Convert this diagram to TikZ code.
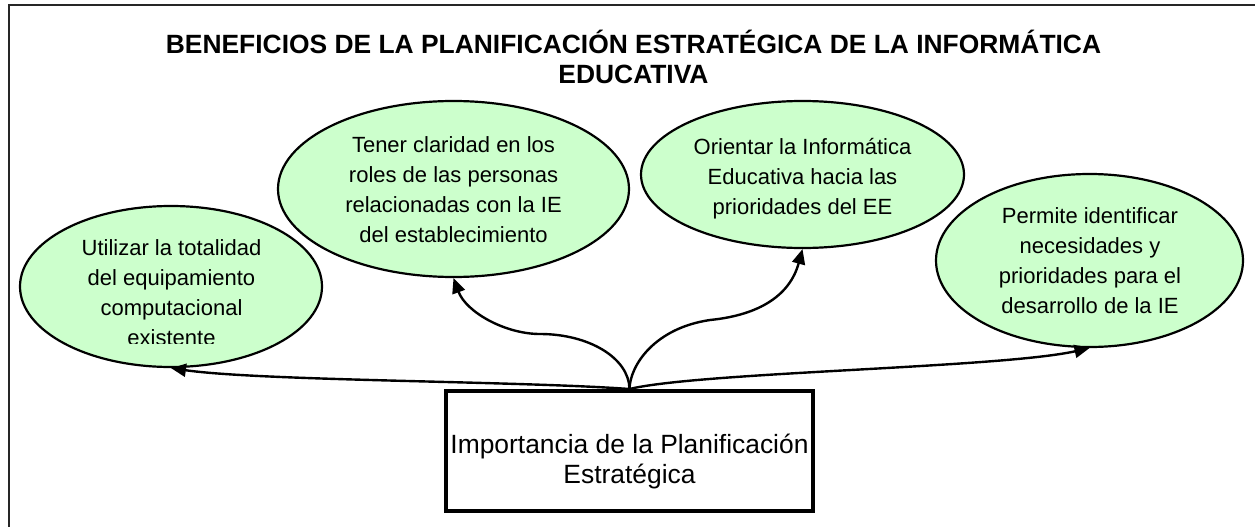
\documentclass[tikz,border=0pt]{standalone}
\usepackage{fontspec}
\setmainfont{Liberation Sans}
\usetikzlibrary{shapes.geometric,arrows.meta}
\definecolor{paleGreen}{RGB}{204,255,204}
\tikzset{
  bubble/.style={ellipse, draw=black, line width=2.2pt, fill=paleGreen, inner sep=0pt},
  bubbletext/.style={anchor=base, align=center, inner sep=0pt, font=\fontsize{22}{30}\selectfont},
  titletext/.style={anchor=base, align=center, inner sep=0pt, font=\bfseries\fontsize{26.4}{30}\selectfont},
  mainbox/.style={draw=black, line width=4pt, fill=white, minimum width=367pt, minimum height=120pt, inner sep=0pt},
  boxtext/.style={anchor=base, align=center, inner sep=0pt, font=\fontsize{26.4}{30}\selectfont},
  link/.style={line width=2.4pt, -{Triangle[length=15pt,width=13pt]}},
  frameline/.style={line width=2pt, draw=black!85}
}
\begin{document}
\begin{tikzpicture}[x=1pt,y=-1pt]
\useasboundingbox (0,0) rectangle (1255,527);
% frame (right and bottom sides fall outside the picture)
\coordinate (fbl) at (9,530);
\coordinate (ftl) at (9,5);
\coordinate (ftr) at (1258,5);
\draw[frameline] (fbl) -- (ftl) -- (ftr);

% title (base anchor = baseline of the last line)
\node[titletext] (title) at (633.5,84) {BENEFICIOS DE LA PLANIFICACIÓN ESTRATÉGICA DE LA INFORMÁTICA\\EDUCATIVA};

% ellipses
\node[bubble, minimum width=302pt, minimum height=161pt] (e1) at (171,286.5) {};
\node[bubble, minimum width=351pt, minimum height=176pt] (e2) at (453.5,189) {};
\node[bubble, minimum width=323pt, minimum height=147pt] (e3) at (802.5,174.5) {};
\node[bubble, minimum width=307pt, minimum height=173pt] (e4) at (1089.5,260.5) {};

% ellipse texts
\begin{scope}
\clip (0,0) rectangle (1255,343);
\node[bubbletext] (t1) at (171.5,345) {Utilizar la totalidad\\del equipamiento\\computacional\\existente};
\end{scope}
\node[bubbletext] (t2) at (453.5,242) {Tener claridad en los\\roles de las personas\\relacionadas con la IE\\del establecimiento};
\node[bubbletext] (t3) at (802.5,214) {Orientar la Informática\\Educativa hacia las\\prioridades del EE};
\node[bubbletext] (t4) at (1090,313) {Permite identificar\\necesidades y\\prioridades para el\\desarrollo de la IE};

% central box
\node[mainbox] (box) at (629.5,451) {};
\node[boxtext] (boxlabel) at (629.5,483) {Importancia de la Planificación\\Estratégica};

% connectors
\draw[link] (box.north) .. controls (520,381) and (260,381) .. (e1.south);
\draw[link] (box.north) .. controls (629,358) and (589,334) .. (540,334)
                        .. controls (505,334) and (466,312) .. (e2.south);
\draw[link] (box.north) .. controls (630,365) and (655,328) .. (710,320)
                        .. controls (760,315) and (790,295) .. (e3.south);
\draw[link] (box.north) .. controls (700,372) and (1000,368) .. (e4.south);
\end{tikzpicture}
\end{document}
